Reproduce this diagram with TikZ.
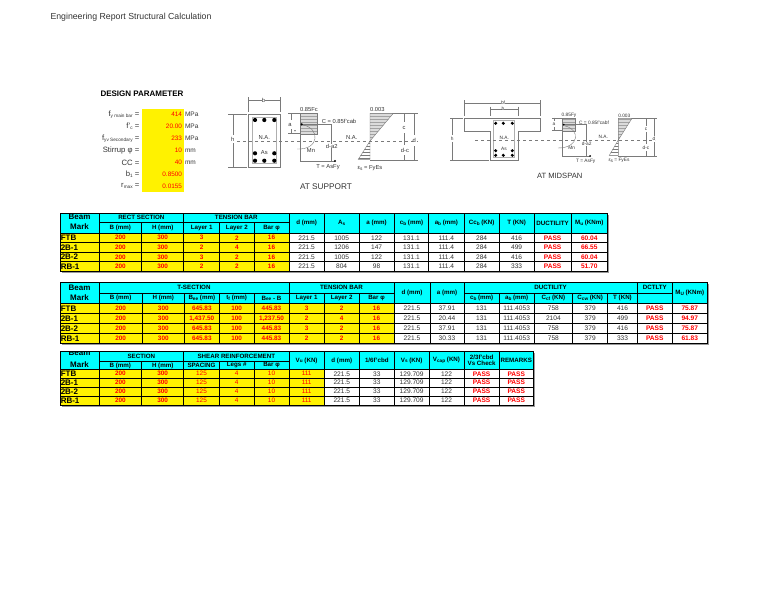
\documentclass[tikz,border=0pt]{standalone}
\usepackage{xcolor}
\usepackage{fontspec}
\setmainfont{Liberation Sans}
\usetikzlibrary{patterns}
\newcommand{\fsz}[1]{\fontsize{#1}{#1}\selectfont}
\newcommand{\sbs}[1]{\raisebox{-0.25ex}{\fontsize{4.7}{4.7}\selectfont #1}}

\begin{document}
\begin{tikzpicture}[x=1pt,y=-1pt,
  bare/.style={inner sep=0pt,outer sep=0pt},
  cell/.style={bare,draw=black,line width=0.8pt,anchor=north west,align=center,text=black},
  headcell/.style={cell,fill=skyhead,font=\fsz{6.2}\bfseries},
  namecell/.style={cell,fill=yellow,font=\fsz{8}\bfseries,text width=37.5pt,align=left},
  incell/.style={cell,fill=yellow,text=red,font=\fsz{6.4}\bfseries},
  lightcell/.style={cell,fill=yellow,text=red,font=\fsz{6.4}},
  outcell/.style={cell,fill=white,text=darktext,font=\fsz{6.6}},
  passcell/.style={cell,fill=white,text=red,font=\fsz{6.6}\bfseries},
  beamtext/.style={bare,font=\fsz{8}\bfseries},
  parlabel/.style={bare,anchor=east,text=darktext,font=\fsz{7.7}},
  parvalue/.style={bare,anchor=east,text=red,font=\fsz{6.4}},
  parunit/.style={bare,anchor=west,text=darktext,font=\fsz{6.5}},
  sketch/.style={draw=sketchgray,line width=0.4pt},
  hatched/.style={sketch,preaction={fill=black!14},pattern=horizontal lines,pattern color=sketchgray!70},
  barelines/.style={sketch,pattern=horizontal lines,pattern color=sketchgray},
  supptext/.style={bare,text=darktext,font=\fsz{5.8}},
  midtext/.style={bare,text=darktext,font=\fsz{4.8}}]
\definecolor{skyhead}{HTML}{00FFFF}
\definecolor{darktext}{HTML}{333333}
\definecolor{sketchgray}{HTML}{7A7A7A}
\definecolor{shadowgray}{HTML}{999999}
\useasboundingbox (0,0) rectangle (768,594);

\node[bare,anchor=west,text=darktext,font=\fsz{8.75}] (title) at (50.5,17) {Engineering Report Structural Calculation};
\node[bare,anchor=west,font=\fsz{8}\bfseries] (designparam) at (100.5,94) {DESIGN PARAMETER};

\fill[yellow] (141.7,109.3) rectangle (184,191.7);
\foreach \lbl/\val/\unit/\y [count=\i] in {
  f\sbs{y main bar} =/414/MPa/114.7,
  f'\sbs{c} =/20.00/MPa/126.7,
  f\sbs{yv Secondary} =/233/MPa/138.7,
  Stirrup φ =/10/mm/150.7,
  CC =/40/mm/162.7,
  b\sbs{1} =/0.8500//174.7,
  r\sbs{max} =/0.0155//186}
{ \node[parlabel] (parlabel\i) at (139.3,\y) {\lbl};
  \node[parvalue] (parvalue\i) at (182,\y) {\val};
  \node[parunit] (parunit\i) at (185,\y) {\unit}; }

\fill[shadowgray] (62,215) rectangle (609,272.8);
\fill[shadowgray] (62,284) rectangle (709,344.8);
\fill[shadowgray] (62,353) rectangle (535,406.5);

\foreach \xa/\xb/\ya/\yb/\hd [count=\k] in {
  60/99/213/233/,
  99/183.7/213/222.3/RECT SECTION,
  99/141.7/222.3/233/B (mm),
  141.7/183.7/222.3/233/H (mm),
  183.7/289/213/222.3/TENSION BAR,
  183.7/219.7/222.3/233/Layer 1,
  219.7/254/222.3/233/Layer 2,
  254/289/222.3/233/Bar φ,
  289/324.3/213/233/d (mm),
  324.3/359/213/233/A\sbs{s},
  359/394.3/213/233/a (mm),
  394.3/428.7/213/233/c\sbs{b} (mm),
  428.7/464/213/233/a\sbs{b} (mm),
  464/499.3/213/233/Cc\sbs{b} (KN),
  499.3/534/213/233/T (KN),
  534/571.3/213/233/DUCTILITY,
  571.3/607.3/213/233/M\sbs{u} (KNm),
  60/99/282.3/303.3/,
  99/289/282.3/293.3/T-SECTION,
  99/142.3/293.3/303.3/B (mm),
  142.3/184.3/293.3/303.3/H (mm),
  184.3/219.3/293.3/303.3/B\sbs{ee} (mm),
  219.3/254/293.3/303.3/t\sbs{f} (mm),
  254/289/293.3/303.3/B\sbs{ee} - B,
  289/394/282.3/293.3/TENSION BAR,
  289/324.3/293.3/303.3/Layer 1,
  324.3/359/293.3/303.3/Layer 2,
  359/394/293.3/303.3/Bar φ,
  394/430/282.3/303.3/d (mm),
  430/464/282.3/303.3/a (mm),
  464/637.3/282.3/293.3/DUCTILITY,
  464/499.3/293.3/303.3/c\sbs{b} (mm),
  499.3/534/293.3/303.3/a\sbs{b} (mm),
  534/572.7/293.3/303.3/C\sbs{cf} (KN),
  572.7/607.7/293.3/303.3/C\sbs{cw} (KN),
  607.7/637.3/293.3/303.3/T (KN),
  637.3/672.3/282.3/293.3/DCTLTY,
  637.3/672.3/293.3/303.3/,
  672.3/707.3/282.3/303.3/M\sbs{U} (KNm),
  60/99/351.7/369.3/,
  99/183.7/351.7/361.7/SECTION,
  99/141.7/361.7/369.3/B (mm),
  141.7/183.7/361.7/369.3/H (mm),
  183.7/289/351.7/361.7/SHEAR REINFORCEMENT,
  183.7/219.3/361.7/369.3/SPACING,
  219.3/254/361.7/369.3/Legs \#,
  254/289/361.7/369.3/Bar φ,
  289/324.3/351.7/369.3/V\sbs{u} (KN),
  324.3/359.3/351.7/369.3/d (mm),
  359.3/394.3/351.7/369.3/{1/6f'cbd},
  394.3/429/351.7/369.3/V\sbs{s} (KN),
  429/464/351.7/369.3/V\sbs{cap} (KN),
  464/499.3/351.7/369.3/{2/3f'cbd\\Vs Check},
  499.3/533.3/351.7/369.3/REMARKS}
{ \pgfmathsetmacro\w{\xb-\xa}
  \pgfmathsetmacro\h{\yb-\ya}
  \node[headcell,minimum width=\w pt,minimum height=\h pt] (head\k) at (\xa,\ya) {\hd}; }

\foreach \ya/\yb/\ybeam/\ymark [count=\i] in {213/233/216.5/226.7,282.3/303.3/287.3/298,351.7/369.3/353/364.3}
{ \begin{scope}
    \clip (60,\ya) rectangle (99,\yb);
    \node[beamtext] (beam\i) at (79.5,\ybeam) {Beam};
    \node[beamtext] (mark\i) at (79.5,\ymark) {Mark};
  \end{scope} }

\foreach \tbl/\ytop/\rowh/\cols in {
  rect/233/9.575/{
    60/99/namecell/{FTB,2B-1,2B-2,RB-1},
    99/141.7/incell/{200,200,200,200},
    141.7/183.7/incell/{300,300,300,300},
    183.7/219.7/incell/{3,2,3,2},
    219.7/254/incell/{2,4,2,2},
    254/289/incell/{16,16,16,16},
    289/324.3/outcell/{221.5,221.5,221.5,221.5},
    324.3/359/outcell/{1005,1206,1005,804},
    359/394.3/outcell/{122,147,122,98},
    394.3/428.7/outcell/{131.1,131.1,131.1,131.1},
    428.7/464/outcell/{111.4,111.4,111.4,111.4},
    464/499.3/outcell/{284,284,284,284},
    499.3/534/outcell/{416,499,416,333},
    534/571.3/passcell/{PASS,PASS,PASS,PASS},
    571.3/607.3/passcell/{60.04,66.55,60.04,51.70}},
  tsec/303.3/10/{
    60/99/namecell/{FTB,2B-1,2B-2,RB-1},
    99/142.3/incell/{200,200,200,200},
    142.3/184.3/incell/{300,300,300,300},
    184.3/219.3/incell/{645.83,{1,437.50},645.83,645.83},
    219.3/254/incell/{100,100,100,100},
    254/289/incell/{445.83,{1,237.50},445.83,445.83},
    289/324.3/incell/{3,2,3,2},
    324.3/359/incell/{2,4,2,2},
    359/394/incell/{16,16,16,16},
    394/430/outcell/{221.5,221.5,221.5,221.5},
    430/464/outcell/{37.91,20.44,37.91,30.33},
    464/499.3/outcell/{131,131,131,131},
    499.3/534/outcell/{111.4053,111.4053,111.4053,111.4053},
    534/572.7/outcell/{758,2104,758,758},
    572.7/607.7/outcell/{379,379,379,379},
    607.7/637.3/outcell/{416,499,416,333},
    637.3/672.3/passcell/{PASS,PASS,PASS,PASS},
    672.3/707.3/passcell/{75.87,94.97,75.87,61.83}},
  shear/369.3/8.925/{
    60/99/namecell/{FTB,2B-1,2B-2,RB-1},
    99/141.7/incell/{200,200,200,200},
    141.7/183.7/incell/{300,300,300,300},
    183.7/219.3/lightcell/{125,125,125,125},
    219.3/254/lightcell/{4,4,4,4},
    254/289/lightcell/{10,10,10,10},
    289/324.3/lightcell/{111,111,111,111},
    324.3/359.3/outcell/{221.5,221.5,221.5,221.5},
    359.3/394.3/outcell/{33,33,33,33},
    394.3/429/outcell/{129.709,129.709,129.709,129.709},
    429/464/outcell/{122,122,122,122},
    464/499.3/passcell/{PASS,PASS,PASS,PASS},
    499.3/533.3/passcell/{PASS,PASS,PASS,PASS}}}
{ \foreach \xa/\xb/\kind/\vals [count=\j] in \cols
  { \pgfmathsetmacro\w{\xb-\xa}
    \foreach \val [count=\i] in \vals
    { \pgfmathsetmacro\ya{\ytop+(\i-1)*\rowh}
      \node[\kind,minimum width=\w pt,minimum height=\rowh pt] (\tbl-\j-\i) at (\xa,\ya) {\val}; } } }

\draw[sketch] (248.3,114) rectangle (280,167.3);
\draw[sketch,draw opacity=0.6] (252.5,117.5) rectangle (276.5,163.5);
\draw[sketch] (248.3,100) -- (280,100) (248.3,97) -- (248.3,112) (280,97) -- (280,112);
\draw[sketch] (232.7,114) -- (232.7,135) (232.7,143) -- (232.7,167.3) (228,114) -- (247,114) (228,167.3) -- (247,167.3);
\foreach \px/\py in {255/120,264.3/120,274.3/120,255/153.3,274.3/153.3,255/160.7,264.3/160.7,274.3/160.7}
{ \fill[black] (\px,\py) circle (2.1); }
\draw[sketchgray,dashed,line width=0.5pt] (237,141) -- (418,141);
\draw[hatched] (300,113.3) rectangle (317.3,134);
\draw[sketch] (300,134) -- (300,161) -- (335,161) (330.7,124.3) -- (330.7,161) (302,124.3) -- (331,124.3);
\draw[sketch] (290.7,113.3) -- (290.7,120) (290.7,129) -- (290.7,133.5) (288,113.3) -- (300,113.3) (288,133.5) -- (300,133.5);
\fill[black] (301.7,124.3) circle (1.2) (335,161) circle (1.1) (295,130.7) circle (0.6);
\draw[sketch] (303,125) .. controls (320,128) and (320,150) .. (297,149);
\draw[hatched] (370,113.3) -- (393.3,113.3) -- (370,141) -- cycle;
\draw[barelines] (370,141) -- (358.3,159.3) -- (370,159.3) -- cycle;
\draw[sketch] (393.3,113.3) -- (418,113.3) (370,160.5) -- (418,160.5);
\draw[sketch] (404,113.3) -- (404,122) (404,133) -- (404,145) (404,155) -- (404,160.5) (414.3,113.3) -- (414.3,135) (414.3,146) -- (414.3,160.5);
\foreach \txt/\px/\py [count=\i] in {
  b/263.5/100,h/232.7/139,N.A./264.3/137.7,As/264.3/152.7,
  a/290/125,0.85Fc/309/110,C = 0.85f'cab/339/121,Mn/311/151,
  d-a\/2/331.7/146,T = AsFy/328/167.3,N.A./351.7/138,0.003/377.3/110,
  ε\sbs{s} = Fy\/Es/370/168.3,c/404/127.7,d-c/405/150,d/414.3/140}
{ \node[supptext,fill=white] (supp\i) at (\px,\py) {\txt}; }
\node[bare,text=darktext,font=\fsz{8.25}] (atsupport) at (326,186.7) {AT SUPPORT};

\draw[sketch] (464.3,118.3) -- (540,118.3) -- (540,131) -- (517.7,131) -- (517.7,160) -- (490,160) -- (490,131) -- (464.3,131) -- cycle;
\draw[sketch,draw opacity=0.6] (493.5,120.5) rectangle (514.5,157.5);
\draw[sketch] (464.3,102.7) -- (540,102.7) (464.3,100) -- (464.3,116) (540,100) -- (540,116);
\draw[sketch] (490,109) -- (517.7,109) (490,106.5) -- (490,116) (517.7,106.5) -- (517.7,116);
\draw[sketch] (452.3,118.3) -- (452.3,135) (452.3,142) -- (452.3,160) (450,118.3) -- (463,118.3) (450,160) -- (489,160);
\foreach \px/\py in {495.7/123.3,503.3/123.3,512.3/123.3,495.7/150.7,512.3/150.7,495.7/155.3,503.3/155.3,512.3/155.3}
{ \fill[black] (\px,\py) circle (1.7); }
\draw[sketchgray,dashed,line width=0.5pt] (475,140) -- (655,140);
\draw[hatched] (562,117.7) rectangle (575.3,130.7);
\draw[sketch] (562,130.7) -- (562,156) -- (590,156) (586,124.3) -- (586,156) (563.5,124.5) -- (586,124.5);
\draw[sketch] (554,117.7) -- (554,121) (554,127) -- (554,130.5) (552,117.7) -- (562,117.7) (552,130.5) -- (562,130.5);
\fill[black] (563.7,124.7) circle (1) (590,156) circle (1);
\draw[sketch] (565,126) .. controls (580,129) and (580,148) .. (558,148);
\draw[hatched] (618.3,118.3) -- (632,118.3) -- (618.3,140) -- cycle;
\draw[barelines] (618.3,140) -- (609.3,155.3) -- (618.3,155.3) -- cycle;
\draw[sketch] (632,118.3) -- (656.7,118.3) (618.3,156) -- (656.7,156);
\draw[sketch] (646,118.3) -- (646,126) (646,132) -- (646,144) (646,151) -- (646,156) (654,118.3) -- (654,136) (654,142) -- (654,156);
\foreach \txt/\px/\py [count=\i] in {
  bf/503/102.7,b/503/109,h/452.3/138.3,N.A./504.3/138,As/504/149.3,
  a/554/124,0.85Fy/569/115.7,C = 0.85f'cabf/594/122.7,Mn/571.7/147.7,
  d-a\/2/586.7/144,T = AsFy/585.7/161,N.A./603.3/136.7,0.003/624.3/115.7,
  ε\sbs{s} = Fy\/Es/619/160.7,c/646/129,d-c/646/147.3,d/654/139}
{ \node[midtext,fill=white] (mid\i) at (\px,\py) {\txt}; }
\node[bare,text=darktext,font=\fsz{7.6}] (atmidspan) at (559.7,176) {AT MIDSPAN};
\end{tikzpicture}
\end{document}
